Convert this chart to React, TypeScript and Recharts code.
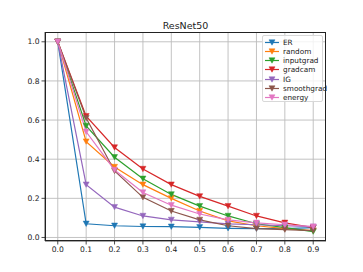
import { LineChart, Line, XAxis, YAxis, CartesianGrid } from 'recharts';

const steps = [0.0, 0.1, 0.2, 0.3, 0.4, 0.5, 0.6, 0.7, 0.8, 0.9];
const er = [1.0, 0.07, 0.06, 0.056, 0.055, 0.052, 0.047, 0.045, 0.045, 0.05];
const random = [1.0, 0.49, 0.36, 0.27, 0.2, 0.135, 0.085, 0.06, 0.045, 0.035];
const inputgrad = [1.0, 0.57, 0.41, 0.3, 0.22, 0.16, 0.11, 0.07, 0.05, 0.03];
const gradcam = [1.0, 0.62, 0.46, 0.35, 0.27, 0.21, 0.16, 0.11, 0.075, 0.05];
const ig = [1.0, 0.27, 0.155, 0.11, 0.09, 0.08, 0.07, 0.065, 0.06, 0.055];
const smoothgrad = [1.0, 0.61, 0.34, 0.205, 0.135, 0.09, 0.06, 0.045, 0.04, 0.035];
const energy = [1.0, 0.54, 0.345, 0.23, 0.165, 0.12, 0.09, 0.075, 0.065, 0.055];

const xTicks = [0, 0.1, 0.2, 0.3, 0.4, 0.5, 0.6, 0.7, 0.8, 0.9];
const yTicks = [0, 0.2, 0.4, 0.6, 0.8, 1.0];

const series = [
  { key: 'ER', values: er, color: '#1f77b4' },
  { key: 'random', values: random, color: '#ff7f0e' },
  { key: 'inputgrad', values: inputgrad, color: '#2ca02c' },
  { key: 'gradcam', values: gradcam, color: '#d62728' },
  { key: 'IG', values: ig, color: '#9467bd' },
  { key: 'smoothgrad', values: smoothgrad, color: '#8c564b' },
  { key: 'energy', values: energy, color: '#e377c2' }
];

const data = steps.map((s, i) => {
  const row: Record<string, number> = { x: s };
  series.forEach(sr => {
    row[sr.key] = sr.values[i];
  });
  return row;
});

const FONT = '"DejaVu Sans", sans-serif';

function Tri(props: any) {
  const { cx, cy, fill } = props;
  if (cx == null || cy == null) return null;
  const h = 3;
  return <path d={`M${cx - h},${cy - h * 0.9} L${cx + h},${cy - h * 0.9} L${cx},${cy + h * 0.9} Z`} fill={fill} stroke={fill} strokeWidth={0.5} />;
}

function LegendBox() {
  return <div style={{
    position: 'absolute',
    left: 262,
    top: 35,
    width: 61,
    height: 67,
    background: 'rgba(255,255,255,0.8)',
    border: '1px solid #d8d8d8',
    borderRadius: 2,
    fontFamily: FONT,
    fontSize: 7.3,
    color: '#222',
    boxSizing: 'border-box'
  }}>
      {series.map((s, i) => <div key={s.key} style={{
      position: 'absolute',
      left: 1,
      top: 1.5 + i * 9.33,
      height: 9,
      display: 'flex',
      alignItems: 'center'
    }}>
          <svg width={16} height={9}>
            <line x1={1} x2={15} y1={4.5} y2={4.5} stroke={s.color} strokeWidth={1.2} />
            <Tri cx={8} cy={4.5} fill={s.color} />
          </svg>
          <span style={{ marginLeft: 3, lineHeight: '9px' }}>{s.key}</span>
        </div>)}
    </div>;
}

export default function App() {
  return <div style={{ position: 'absolute', left: 0, top: 0, width: 363, height: 272, background: '#fff' }}>
      <div style={{
      position: 'absolute',
      left: 45,
      width: 281,
      top: 20,
      textAlign: 'center',
      fontFamily: FONT,
      fontSize: 9.5,
      color: '#222'
    }}>ResNet50</div>
      <LineChart width={363} height={272} data={data} margin={{ top: 32, right: 37, bottom: 0, left: 0 }}>
        <CartesianGrid xAxisId="b" yAxisId="l" stroke="#bcbcbc" strokeWidth={0.9} horizontalValues={yTicks} verticalValues={xTicks} />
        <XAxis xAxisId="b" dataKey="x" type="number" domain={[-0.045, 0.945]} ticks={xTicks} allowDataOverflow
        tickFormatter={(v: number) => v.toFixed(1)} height={31} stroke="#222" strokeWidth={0.8}
        tick={{ fontSize: 7.6, fill: '#222', fontFamily: FONT }} tickSize={3.5} tickMargin={2} />
        <YAxis yAxisId="l" type="number" domain={[-0.018, 1.05]} ticks={yTicks} allowDataOverflow
        tickFormatter={(v: number) => v.toFixed(1)} width={45} stroke="#222" strokeWidth={0.8}
        tick={{ fontSize: 7.6, fill: '#222', fontFamily: FONT }} tickSize={3.5} tickMargin={2} />
        {series.map(s => <Line key={s.key} xAxisId="b" yAxisId="l" dataKey={s.key} stroke={s.color} strokeWidth={1.2}
        isAnimationActive={false} dot={(p: any) => <Tri key={`${s.key}-${p.index}`} cx={p.cx} cy={p.cy} fill={s.color} />}
        activeDot={false} type="linear" />)}
      </LineChart>
      <div style={{
      position: 'absolute',
      left: 45,
      top: 32,
      width: 281,
      height: 209,
      border: '0.8px solid #222',
      boxSizing: 'border-box',
      pointerEvents: 'none'
    }} />
      <LegendBox />
    </div>;
}
